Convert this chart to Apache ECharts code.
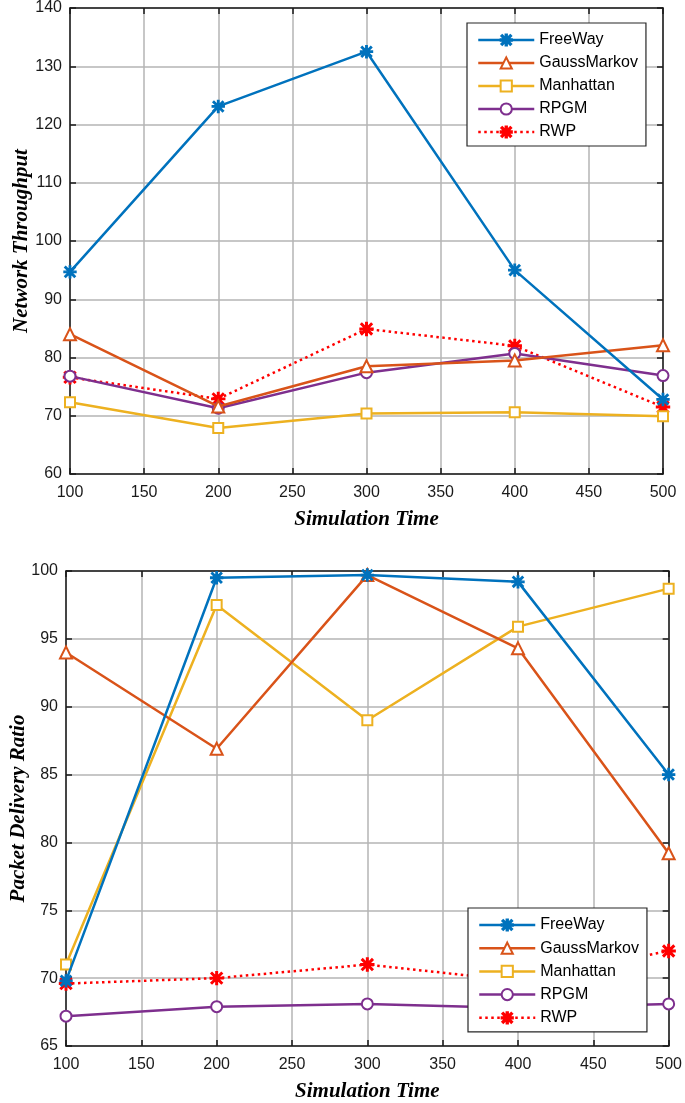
<!DOCTYPE html>
<html>
<head>
<meta charset="utf-8">
<script src="https://cdn.jsdelivr.net/npm/echarts@6/dist/echarts.min.js"></script>
<style>
html,body{margin:0;padding:0;background:#fff;}
#c{width:685px;height:1103px;}
</style>
</head>
<body>
<div id="c"></div>
<script>
// ---- data ----
const simTime = [100, 200, 300, 400, 500];
const seriesNames = ['FreeWay', 'GaussMarkov', 'Manhattan', 'RPGM', 'RWP'];

// Network Throughput (top chart)
const freewayThr   = [94.7, 123.1, 132.5, 95.0, 72.8];
const gaussThr     = [84.0, 71.6, 78.5, 79.5, 82.1];
const manhattanThr = [72.3, 67.9, 70.4, 70.6, 69.9];
const rpgmThr      = [76.8, 71.3, 77.4, 80.7, 76.9];
const rwpThr       = [76.6, 72.9, 84.9, 82.0, 71.5];

// Packet Delivery Ratio (bottom chart)
const freewayPdr   = [69.8, 99.5, 99.7, 99.2, 85.0];
const gaussPdr     = [94.0, 86.9, 99.7, 94.3, 79.2];
const manhattanPdr = [71.0, 97.5, 89.0, 95.9, 98.7];
const rpgmPdr      = [67.2, 67.9, 68.1, 67.8, 68.1];
const rwpPdr       = [69.6, 70.0, 71.0, 69.8, 72.0];

// ---- styles ----
const colors = ['#0072BD', '#D95319', '#EDB120', '#7E2F8E', '#FF0000'];
const asterisk = 'path://M0,4.4L10,4.4L10,5.6L0,5.6ZM4.4,0L5.6,0L5.6,10L4.4,10ZM0.6,1.45L1.45,0.6L9.4,8.55L8.55,9.4ZM8.55,0.6L9.4,1.45L1.45,9.4L0.6,8.55Z';
const symbols = [asterisk, 'emptyTriangle', 'emptyRect', 'emptyCircle', asterisk];
const symbolSizes = [12, 12, 10, 11, 13];
const tickFont = 'Liberation Sans, Arial, sans-serif';
const nameFont = 'Liberation Serif, Times New Roman, serif';

function pairs(vals) { return simTime.map((t, i) => [t, vals[i]]); }

function makeSeries(dataSets, axisIdx) {
  return dataSets.map((vals, k) => ({
    name: seriesNames[k],
    type: 'line',
    xAxisIndex: axisIdx * 2,
    yAxisIndex: axisIdx * 2,
    data: pairs(vals),
    symbol: symbols[k],
    symbolSize: symbolSizes[k],
    showAllSymbol: true,
    color: colors[k],
    lineStyle: { width: 2.5, color: colors[k], type: k === 4 ? [2.5, 3.5] : 'solid' },
    itemStyle: { color: colors[k], borderColor: colors[k], borderWidth: k === 0 || k === 4 ? 1.4 : 2 },
    z: 10 - k,
    animation: false
  }));
}

function xAxes(gridIndex) {
  return [
    {
      type: 'value', gridIndex, position: 'bottom', min: 100, max: 500, interval: 50,
      name: 'Simulation Time', nameLocation: 'middle', nameGap: 35,
      nameTextStyle: { fontFamily: nameFont, fontWeight: 'bold', fontStyle: 'italic', fontSize: 21, color: '#000' },
      axisLine: { show: true, lineStyle: { color: '#1a1a1a', width: 1.5 } },
      axisTick: { show: true, inside: true, length: 6, lineStyle: { color: '#1a1a1a', width: 1.5 } },
      axisLabel: { fontFamily: tickFont, fontSize: 16, color: '#1a1a1a', margin: 11 },
      splitLine: { show: true, lineStyle: { color: '#b5b5b5', width: 1.5 } }
    },
    {
      type: 'value', gridIndex, position: 'top', min: 100, max: 500, interval: 50,
      axisLine: { show: true, onZero: false, lineStyle: { color: '#1a1a1a', width: 1.5 } },
      axisTick: { show: true, inside: true, length: 6, lineStyle: { color: '#1a1a1a', width: 1.5 } },
      axisLabel: { show: false },
      splitLine: { show: false }
    }
  ];
}

function yAxes(gridIndex, min, max, interval, name, gap) {
  return [
    {
      type: 'value', gridIndex, position: 'left', min, max, interval,
      name, nameLocation: 'middle', nameGap: gap, nameMoveOverlap: false,
      nameTextStyle: { fontFamily: nameFont, fontWeight: 'bold', fontStyle: 'italic', fontSize: 21, color: '#000' },
      axisLine: { show: true, lineStyle: { color: '#1a1a1a', width: 1.5 } },
      axisTick: { show: true, inside: true, length: 6, lineStyle: { color: '#1a1a1a', width: 1.5 } },
      axisLabel: { fontFamily: tickFont, fontSize: 16, color: '#1a1a1a', margin: 8 },
      splitLine: { show: true, lineStyle: { color: '#b5b5b5', width: 1.5 } }
    },
    {
      type: 'value', gridIndex, position: 'right', min, max, interval,
      axisLine: { show: true, onZero: false, lineStyle: { color: '#1a1a1a', width: 1.5 } },
      axisTick: { show: true, inside: true, length: 6, lineStyle: { color: '#1a1a1a', width: 1.5 } },
      axisLabel: { show: false },
      splitLine: { show: false }
    }
  ];
}

function legend(left, top, itemGap) {
  return {
    orient: 'vertical', left, top,
    data: seriesNames,
    itemWidth: 56, itemHeight: 14, itemGap,
    padding: [9, 8, 6, 10],
    backgroundColor: '#fff',
    borderColor: '#262626', borderWidth: 1.2, borderRadius: 0,
    lineStyle: { width: 2.5 },
    textStyle: { fontFamily: tickFont, fontSize: 16, color: '#000', padding: [0, 0, 0, 0] },
    z: 20
  };
}

const option = {
  backgroundColor: '#fff',
  animation: false,
  grid: [
    { left: 70, right: 22, top: 6, height: 468, containLabel: false },
    { left: 65, right: 15, top: 571, height: 478, containLabel: false }
  ],
  xAxis: [...xAxes(0), ...xAxes(1)],
  yAxis: [
    ...yAxes(0, 60, 140, 10, 'Network Throughput', 38),
    ...yAxes(1, 65, 100, 5, 'Packet Delivery Ratio', 37)
  ],
  legend: [legend(467, 23, 7), legend(468, 908, 7.2)],
  series: [
    ...makeSeries([freewayThr, gaussThr, manhattanThr, rpgmThr, rwpThr], 0),
    ...makeSeries([freewayPdr, gaussPdr, manhattanPdr, rpgmPdr, rwpPdr], 1)
  ]
};

const chart = echarts.init(document.getElementById('c'), null, { renderer: 'canvas' });
chart.setOption(option);
</script>
</body>
</html>
